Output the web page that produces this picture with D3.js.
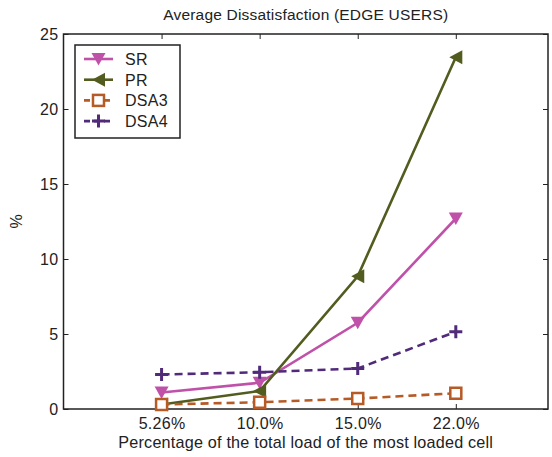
<!DOCTYPE html>
<html lang="en">
  <head>
    <meta charset="UTF-8" />
    <style>
      html, body { margin: 0; padding: 0; background: #fff; }
      svg { display: block; font-family: "Liberation Sans", Arial, sans-serif; }
    </style>
    <script src="https://cdn.jsdelivr.net/npm/d3@7/dist/d3.min.js"></script>
  </head>
  <body>
    <script>
      const categories = ["5.26%", "10.0%", "15.0%", "22.0%"];
      const srValues = [1.1, 1.75, 5.75, 12.7];
      const prValues = [0.3, 1.2, 8.85, 23.45];
      const dsa3Values = [0.3, 0.45, 0.7, 1.05];
      const dsa4Values = [2.3, 2.45, 2.7, 5.15];
      const yTicks = [0, 5, 10, 15, 20, 25];

      const series = [
        { name: "SR", values: srValues, color: "#c051a9", dash: null, marker: "down" },
        { name: "PR", values: prValues, color: "#525c1f", dash: null, marker: "left" },
        { name: "DSA3", values: dsa3Values, color: "#b65a26", dash: "8,5", marker: "square" },
        { name: "DSA4", values: dsa4Values, color: "#512a7a", dash: "8,5", marker: "plus" },
      ];

      const width = 552, height = 457;
      const plotLeft = 63.5, plotRight = 548, plotTop = 34, plotBottom = 409;

      const x = d3.scaleLinear().domain([0, 4.94]).range([plotLeft, plotRight]);
      const y = d3.scaleLinear().domain([0, 25]).range([plotBottom, plotTop]);

      const svg = d3.select(document.body).append("svg")
        .attr("width", width).attr("height", height);

      // axes box
      svg.append("rect")
        .attr("x", plotLeft).attr("y", plotTop)
        .attr("width", plotRight - plotLeft).attr("height", plotBottom - plotTop)
        .attr("fill", "none").attr("stroke", "#222").attr("stroke-width", 1.5);

      const tickLen = 5;
      const xAxis = d3.axisBottom(x)
        .tickValues(categories.map((_, i) => i + 1))
        .tickFormat((d) => categories[d - 1])
        .tickSizeInner(-tickLen).tickSizeOuter(0).tickPadding(9);
      svg.append("g").attr("transform", `translate(0,${plotBottom})`).call(xAxis)
        .call((g) => g.select(".domain").remove());
      svg.append("g").attr("transform", `translate(0,${plotTop})`)
        .call(d3.axisTop(x).tickValues([1, 2, 3, 4]).tickFormat("")
          .tickSizeInner(-tickLen).tickSizeOuter(0))
        .call((g) => g.select(".domain").remove());

      const yAxis = d3.axisLeft(y).tickValues(yTicks)
        .tickSizeInner(-tickLen).tickSizeOuter(0).tickPadding(5);
      svg.append("g").attr("transform", `translate(${plotLeft},0)`).call(yAxis)
        .call((g) => g.select(".domain").remove());
      svg.append("g").attr("transform", `translate(${plotRight},0)`)
        .call(d3.axisRight(y).tickValues(yTicks).tickFormat("")
          .tickSizeInner(-tickLen).tickSizeOuter(0))
        .call((g) => g.select(".domain").remove());

      svg.selectAll(".tick text").attr("font-size", 16).attr("fill", "#222")
        .attr("letter-spacing", 0.3)
        .attr("font-family", "Liberation Sans, Arial, sans-serif");
      svg.selectAll(".tick line").attr("stroke", "#222");

      // titles
      svg.append("text").attr("x", (plotLeft + plotRight) / 2).attr("y", 20)
        .attr("text-anchor", "middle").attr("font-size", 15.5).attr("fill", "#222")
        .attr("letter-spacing", 0.2)
        .text("Average Dissatisfaction (EDGE USERS)");
      svg.append("text").attr("x", (plotLeft + plotRight) / 2).attr("y", 448)
        .attr("text-anchor", "middle").attr("font-size", 16.2).attr("fill", "#222")
        .attr("letter-spacing", 0.2)
        .text("Percentage of the total load of the most loaded cell");
      svg.append("text").attr("transform", `translate(22,${(plotTop + plotBottom) / 2}) rotate(-90)`)
        .attr("text-anchor", "middle").attr("font-size", 16).attr("fill", "#222")
        .text("%");

      const drawMarker = (g, type, color) => {
        if (type === "down") {
          g.append("path").attr("d", "M-7,-6L7,-6L0,6.5Z").attr("fill", color);
        } else if (type === "left") {
          g.append("path").attr("d", "M-6.5,0L6.5,-7L6.5,7Z").attr("fill", color);
        } else if (type === "square") {
          g.append("rect").attr("x", -5.5).attr("y", -5.5).attr("width", 11).attr("height", 11)
            .attr("fill", "#fff").attr("stroke", color).attr("stroke-width", 2.5);
        } else if (type === "plus") {
          g.append("path").attr("d", "M-6.5,0H6.5M0,-6.5V6.5").attr("stroke", color).attr("stroke-width", 3);
        }
      };

      const line = d3.line().x((d, i) => x(i + 1)).y((d) => y(d));

      series.forEach((s) => {
        svg.append("path").datum(s.values)
          .attr("d", line).attr("fill", "none")
          .attr("stroke", s.color).attr("stroke-width", 2.6)
          .attr("stroke-dasharray", s.dash);
        s.values.forEach((v, i) => {
          const g = svg.append("g").attr("transform", `translate(${x(i + 1)},${y(v)})`);
          drawMarker(g, s.marker, s.color);
        });
      });

      // legend
      const legend = svg.append("g");
      legend.append("rect").attr("x", 75).attr("y", 45).attr("width", 105).attr("height", 93)
        .attr("fill", "#fff").attr("stroke", "#222").attr("stroke-width", 1.5);
      series.forEach((s, i) => {
        const ly = 59 + i * 20.7;
        legend.append("line").attr("x1", 84).attr("x2", 113).attr("y1", ly).attr("y2", ly)
          .attr("stroke", s.color).attr("stroke-width", 2.6)
          .attr("stroke-dasharray", s.dash ? "6,4" : null);
        drawMarker(legend.append("g").attr("transform", `translate(98.5,${ly})`), s.marker, s.color);
        legend.append("text").attr("x", 125).attr("y", ly + 6)
          .attr("font-size", 16).attr("letter-spacing", 0.3).attr("fill", "#222").text(s.name);
      });
    </script>
  </body>
</html>
